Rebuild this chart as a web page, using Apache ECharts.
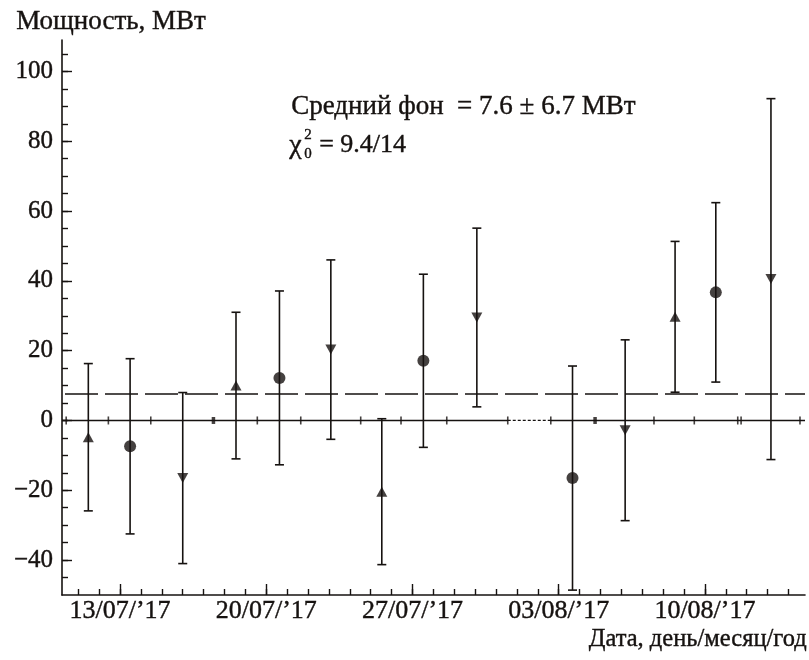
<!DOCTYPE html>
<html><head><meta charset="utf-8">
<script src="https://cdn.jsdelivr.net/npm/echarts@6/dist/echarts.min.js"></script>
<style>html,body{margin:0;padding:0;background:#fff}#c{width:809px;height:660px}</style>
</head><body><div id="c"></div>
<script>
// x values: days since 13/07/2017 00:00
const days    = [-1.52, 0.48, 3.00, 5.55, 7.63, 10.09, 12.53, 14.52, 17.08, 21.66, 24.18, 26.57, 28.52, 31.16];
const power   = [-4.8, -7.4, -16.5, 10.0, 12.2, 20.3, -20.4, 17.1, 29.5, -16.5, -2.8, 29.7, 36.7, 40.5];
const errors  = [21.1, 25.1, 24.5, 21.0, 24.9, 25.7, 20.9, 24.8, 25.6, 32.1, 25.9, 21.6, 25.7, 51.7];
const markers = ['up','circle','down','up','circle','down','up','circle','down','circle','down','up','circle','down'];
const meanBg = 7.6;
const weekTicks  = [0, 7, 14, 21, 28];
const weekLabels = ['13/07/\u201917', '20/07/\u201917', '27/07/\u201917', '03/08/\u201917', '10/08/\u201917'];
const dayTicks = [-2,-1,0,1,2,3,4,5,6,7,8,9,10,11,12,13,14,15,16,17,18,19,20,21,22,23,24,25,26,27,28,29,30,31,32];
const yMajor = [-40, -20, 0, 20, 40, 60, 80, 100];
const yMinor = [-45,-40,-35,-30,-25,-20,-15,-10,-5,0,5,10,15,20,25,30,35,40,45,50,55,60,65,70,75,80,85,90,95,100,105];
const zeroTicks = [-2.58, -0.56, 1.47, 6.57, 8.65, 11.52, 13.45, 15.64, 18.56, 20.62, 25.56, 27.49, 29.57, 29.73, 32.55];
const zeroBlocks = [4.47, 22.74];
const dottedFrom = 18.56, dottedTo = 20.62;
const xMin = -2.78, xMax = 32.79, yMin = -50, yMax = 109;

const INK = '#161210';
const FONT = 'Liberation Serif';
const TB = {textBorderColor: INK, textBorderWidth: 0.4};

const chart = echarts.init(document.getElementById('c'), null, {renderer: 'canvas'});

function pts(kind) {
  const out = [];
  days.forEach((d, i) => { if (markers[i] === kind) out.push([d, power[i]]); });
  return out;
}
function txt(left, top, text, size) {
  return {type: 'text', left: left, top: top,
    style: {text: text, font: size + 'px "' + FONT + '"', fill: INK, stroke: INK, lineWidth: 0.4}};
}

const option = {
  backgroundColor: '#fff',
  animation: false,
  grid: {left: 62, right: 4, top: 40, bottom: 65},
  xAxis: [
    {type: 'value', min: xMin, max: xMax, position: 'bottom',
     axisLine: {onZero: false, lineStyle: {color: INK, width: 1.6}},
     axisTick: {inside: true, length: 6, customValues: dayTicks, lineStyle: {color: INK, width: 1.4}},
     axisLabel: {show: false}, splitLine: {show: false}},
    {type: 'value', min: xMin, max: xMax, position: 'bottom',
     axisLine: {show: false, onZero: false},
     axisTick: {inside: true, length: 11, customValues: weekTicks, lineStyle: {color: INK, width: 1.4}},
     axisLabel: Object.assign({customValues: weekTicks, margin: 3, color: INK, fontFamily: FONT, fontSize: 26,
       formatter: v => weekLabels[weekTicks.indexOf(v)] || ''}, TB),
     splitLine: {show: false}}
  ],
  yAxis: [
    {type: 'value', min: yMin, max: yMax, position: 'left',
     axisLine: {onZero: false, lineStyle: {color: INK, width: 1.6}},
     axisTick: {inside: true, length: 6, customValues: yMinor, lineStyle: {color: INK, width: 1.4}},
     axisLabel: {show: false}, splitLine: {show: false}},
    {type: 'value', min: yMin, max: yMax, position: 'left',
     axisLine: {show: false, onZero: false},
     axisTick: {inside: true, length: 10, customValues: yMajor, lineStyle: {color: INK, width: 1.4}},
     axisLabel: Object.assign({customValues: yMajor, margin: 9, color: INK, fontFamily: FONT, fontSize: 25,
       formatter: v => String(v).replace('-', '\u2212')}, TB),
     splitLine: {show: false}}
  ],
  graphic: [
    txt(16, 8, 'Мощность, МВт', 27),
    Object.assign(txt(0, 627, 'Дата, день/месяц/год', 24.5), {left: null, right: 2}),
    txt(291, 93, 'Средний фон  = 7.6 \u00b1 6.7 МВт', 27),
    txt(289, 131, '\u03c7', 28),
    txt(304, 127, '2', 15),
    txt(304, 146, '0', 15),
    txt(319, 132, '= 9.4/14', 26)
  ],
  series: [
    {type: 'line', data: [[xMin, 0], [dottedFrom, 0]], symbol: 'none', silent: true,
     lineStyle: {color: INK, width: 1.6}, z: 1},
    {type: 'line', data: [[dottedFrom, 0], [dottedTo, 0]], symbol: 'none', silent: true,
     lineStyle: {color: INK, width: 1.2, type: [3, 2]}, z: 1},
    {type: 'line', data: [[dottedTo, 0], [xMax, 0]], symbol: 'none', silent: true,
     lineStyle: {color: INK, width: 1.6}, z: 1},
    {type: 'scatter', data: zeroTicks.map(v => [v, 0]), symbol: 'rect', symbolSize: [1.6, 8],
     itemStyle: {color: INK}, silent: true, z: 2},
    {type: 'scatter', data: zeroBlocks.map(v => [v, 0]), symbol: 'rect', symbolSize: [3.5, 7],
     itemStyle: {color: INK}, silent: true, z: 2},
    {type: 'line', data: [[xMin, meanBg], [xMax, meanBg]], symbol: 'none', silent: true,
     lineStyle: {color: INK, width: 1.5, type: [33, 7], dashOffset: 37}, z: 1},
    {type: 'custom', silent: true, z: 3,
     encode: {x: 0, y: [1, 2]},
     data: days.map((d, i) => [d, power[i] - errors[i], power[i] + errors[i]]),
     renderItem: function (params, api) {
       const x = api.value(0);
       const lo = api.coord([x, api.value(1)]);
       const hi = api.coord([x, api.value(2)]);
       const w = 4.5;
       const st = {stroke: INK, lineWidth: 1.6};
       return {type: 'group', children: [
         {type: 'line', shape: {x1: hi[0], y1: hi[1], x2: lo[0], y2: lo[1]}, style: st},
         {type: 'line', shape: {x1: hi[0] - w, y1: hi[1], x2: hi[0] + w, y2: hi[1]}, style: st},
         {type: 'line', shape: {x1: lo[0] - w, y1: lo[1], x2: lo[0] + w, y2: lo[1]}, style: st}
       ]};
     }},
    {type: 'scatter', data: pts('up'), symbol: 'triangle', symbolSize: [11, 10],
     itemStyle: {color: INK}, z: 4},
    {type: 'scatter', data: pts('down'), symbol: 'triangle', symbolRotate: 180, symbolSize: [11, 10],
     itemStyle: {color: INK}, z: 4},
    {type: 'scatter', data: pts('circle'), symbol: 'circle', symbolSize: 12,
     itemStyle: {color: INK}, z: 4}
  ]
};
chart.setOption(option);
</script>
</body></html>
